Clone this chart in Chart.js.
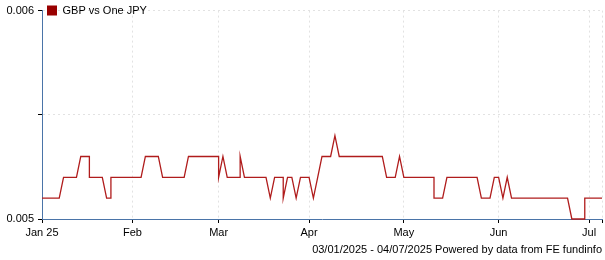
<!DOCTYPE html>
<html>
<head>
<meta charset="utf-8">
<script src="https://cdn.jsdelivr.net/npm/chart.js@4.4.1/dist/chart.umd.min.js"></script>
<style>
  html, body { margin: 0; padding: 0; background: #fff; }
  #wrap { width: 605px; height: 260px; }
</style>
</head>
<body>
<div id="wrap"><canvas id="chart"></canvas></div>
<script>
const seriesName = 'GBP vs One JPY'
const startDate = '2025-01-03'
const endDate = '2025-07-04'
const footerText = '03/01/2025 - 04/07/2025 Powered by data from FE fundinfo'

// one close per weekday, 03 Jan 2025 .. 04 Jul 2025
const janCloses = [0.0051, 0.0051, 0.0051, 0.0051, 0.0051, 0.0052, 0.0052, 0.0052, 0.0052, 0.0053, 0.0053,
  0.0052, 0.0052, 0.0052, 0.0052, 0.0051, 0.0052, 0.0052, 0.0052, 0.0052, 0.0052]
const febCloses = [0.0052, 0.0052, 0.0052, 0.0053, 0.0053, 0.0053, 0.0053, 0.0052, 0.0052, 0.0052,
  0.0052, 0.0052, 0.0052, 0.0053, 0.0053, 0.0053, 0.0053, 0.0053, 0.0053, 0.0053]
const marCloses = [0.0052, 0.0053, 0.0052, 0.0052, 0.0052, 0.0053, 0.0052, 0.0052, 0.0052, 0.0052, 0.0052,
  0.0052, 0.0051, 0.0052, 0.0052, 0.0051, 0.0052, 0.0052, 0.0051, 0.0052, 0.0052]
const aprCloses = [0.0052, 0.0051, 0.0052, 0.0053, 0.0053, 0.0053, 0.0054, 0.0053, 0.0053, 0.0053, 0.0053,
  0.0053, 0.0053, 0.0053, 0.0053, 0.0053, 0.0053, 0.0053, 0.0052, 0.0052, 0.0052, 0.0053]
const mayCloses = [0.0052, 0.0052, 0.0052, 0.0052, 0.0052, 0.0052, 0.0052, 0.0051, 0.0051, 0.0051, 0.0052,
  0.0052, 0.0052, 0.0052, 0.0052, 0.0052, 0.0052, 0.0052, 0.0051, 0.0051, 0.0051, 0.0052]
const junCloses = [0.0052, 0.0051, 0.0052, 0.0051, 0.0051, 0.0051, 0.0051, 0.0051, 0.0051, 0.0051,
  0.0051, 0.0051, 0.0051, 0.0051, 0.0051, 0.0051, 0.0051, 0.0050, 0.0050, 0.0050, 0.0051]
const julCloses = [0.0051, 0.0051, 0.0051, 0.0051]

const monthLabels = ['Jan 25', 'Feb', 'Mar', 'Apr', 'May', 'Jun', 'Jul']
const yTicks = [0.005, 0.0055, 0.006]
const yLabels = ['0.005', '', '0.006']

const lineColor = '#b01c1c'
const axisColor = '#4a74a8'
const gridColor = '#e2e2e2'

const closes = [].concat(janCloses, febCloses, marCloses, aprCloses, mayCloses, junCloses, julCloses)

// weekday slots on the x axis
const days = []
for (let d = new Date(startDate + 'T00:00:00Z'); d <= new Date(endDate + 'T00:00:00Z'); d.setUTCDate(d.getUTCDate() + 1)) {
  const wd = d.getUTCDay()
  if (wd !== 0 && wd !== 6) days.push(new Date(d))
}

// first slot of each month gets a labelled tick, last slot a bare one
const tickText = {}
let m = 0
days.forEach((d, i) => {
  if (i === 0 || d.getUTCMonth() !== days[i - 1].getUTCMonth()) tickText[i] = monthLabels[m++]
})
tickText[days.length - 1] = tickText[days.length - 1] || ''
const tickIdx = Object.keys(tickText).map(Number)

// the weekend carries Friday's close into Monday's slot
const points = []
days.forEach((d, i) => {
  if (i > 0 && d.getUTCDay() === 1) points.push({ x: i, y: closes[i - 1] })
  points.push({ x: i, y: closes[i] })
})

Chart.defaults.font.family = '"Liberation Sans", Arial, sans-serif'
Chart.defaults.font.size = 11
Chart.defaults.color = '#000'

new Chart(document.getElementById('chart'), {
  type: 'line',
  data: {
    datasets: [{
      label: seriesName,
      data: points,
      borderColor: lineColor,
      borderWidth: 1.3,
      pointRadius: 0,
      tension: 0,
      clip: false
    }]
  },
  options: {
    animation: false,
    responsive: true,
    maintainAspectRatio: false,
    layout: { padding: { top: 4, right: 1 } },
    plugins: {
      tooltip: { enabled: false },
      legend: {
        position: 'chartArea',
        align: 'start',
        labels: {
          boxWidth: 10,
          boxHeight: 10,
          padding: 5,
          generateLabels: () => [{ text: seriesName, fillStyle: '#990000', strokeStyle: '#990000', lineWidth: 0, datasetIndex: 0 }]
        }
      }
    },
    scales: {
      x: {
        type: 'linear',
        min: 0,
        max: days.length - 1,
        afterBuildTicks(scale) {
          scale.ticks = tickIdx.map(v => ({ value: v }))
        },
        ticks: {
          autoSkip: false,
          maxRotation: 0,
          padding: 3,
          callback: v => tickText[v] ?? ''
        },
        grid: {
          color: c => (c.tick && c.tick.value === 0) ? 'rgba(0,0,0,0)' : gridColor,
          tickColor: '#000',
          tickLength: 4
        },
        border: { color: axisColor, width: 1, dash: [2, 3] },
        title: {
          display: true,
          text: footerText,
          align: 'end',
          padding: { top: 0, bottom: 3 }
        },
        afterFit(scale) { scale.height = 41 }
      },
      y: {
        min: yTicks[0],
        max: yTicks[yTicks.length - 1],
        afterBuildTicks(scale) {
          scale.ticks = yTicks.map(v => ({ value: v }))
        },
        ticks: {
          padding: 4,
          callback: (v, i) => yLabels[i]
        },
        grid: {
          color: c => (c.tick && c.tick.value === yTicks[0]) ? 'rgba(0,0,0,0)' : gridColor,
          tickColor: '#000',
          tickLength: 4
        },
        border: { color: axisColor, width: 1, dash: [2, 3] },
        afterFit(scale) { scale.width = 42 }
      }
    }
  }
})
</script>
</body>
</html>
